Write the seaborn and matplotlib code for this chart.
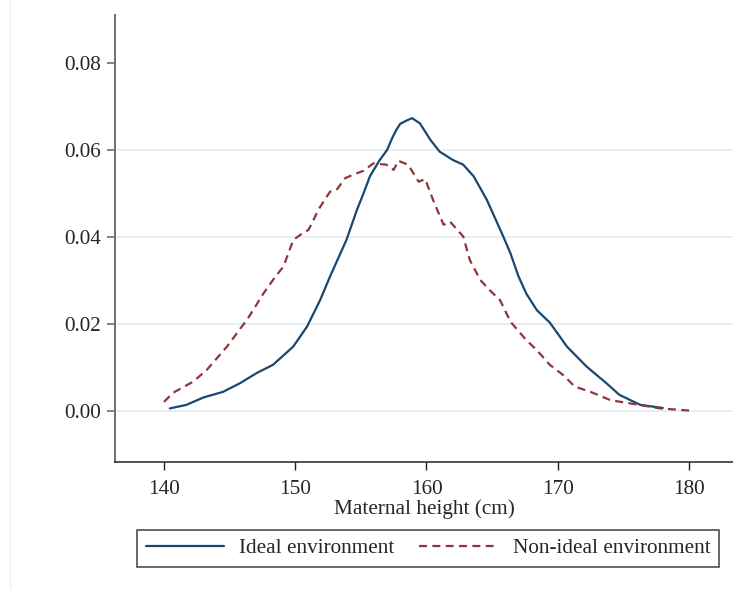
import matplotlib
matplotlib.use("Agg")
import matplotlib.pyplot as plt
import matplotlib.lines as mlines
import seaborn as sns
import pandas as pd

# ---- data ----
ideal_x = [140.45, 141.7, 143.0, 144.5, 145.8, 147.05, 148.3, 149.85, 150.9, 151.9,
           152.65, 153.9, 154.7, 155.2, 155.7, 156.4, 157.0, 157.4, 157.7, 158.0, 158.45, 158.9,
           159.5, 160.3, 161.0, 162.0, 162.8, 163.6, 164.6, 165.85, 166.4, 167.0, 167.6,
           168.4, 169.4, 170.7, 172.2, 173.7, 174.7, 176.3, 178.0]
ideal_y = [0.0006, 0.0014, 0.0031, 0.0044, 0.0064, 0.0087, 0.0106, 0.0148, 0.0194, 0.0255,
           0.0309, 0.0393, 0.0462, 0.0500, 0.0540, 0.0575, 0.0600, 0.0628, 0.0646, 0.0660, 0.0667, 0.0673,
           0.0661, 0.0623, 0.0596, 0.0577, 0.0566, 0.0539, 0.0485, 0.0401, 0.0362, 0.0310, 0.0270,
           0.0232, 0.0203, 0.0148, 0.0102, 0.0064, 0.0037, 0.0014, 0.0007]

nonideal_x = [140.0, 140.7, 142.2, 143.25, 144.8, 146.4, 147.6, 148.3, 149.1, 149.85,
              150.4, 151.0, 151.25, 151.75, 152.65, 153.15, 153.8, 154.4, 155.2, 155.95,
              156.95, 157.5, 157.85, 158.6, 159.4, 159.9, 160.5, 161.3, 161.8, 162.8,
              163.3, 164.1, 164.8, 165.6, 166.4, 167.6, 168.4, 169.4, 170.4, 171.3,
              172.5, 174.0, 175.8, 177.8, 180.0]
nonideal_y = [0.0021, 0.0042, 0.0067, 0.0094, 0.0148, 0.0213, 0.0271, 0.0301, 0.0332, 0.0393,
              0.0405, 0.0416, 0.0430, 0.0462, 0.0504, 0.0508, 0.0535, 0.0543, 0.0552, 0.0569,
              0.0566, 0.0554, 0.0575, 0.0566, 0.0527, 0.0533, 0.0485, 0.0428, 0.0435, 0.0401,
              0.0347, 0.0301, 0.0278, 0.0255, 0.0205, 0.0163, 0.0140, 0.0106, 0.0083, 0.0056,
              0.0044, 0.0025, 0.0016, 0.0006, 0.0001]

series_labels = ["Ideal environment", "Non-ideal environment"]
x_ticks = [140, 150, 160, 170, 180]
y_ticks = [0.00, 0.02, 0.04, 0.06, 0.08]
y_tick_labels = ["0.00", "0.02", "0.04", "0.06", "0.08"]
x_label = "Maternal height (cm)"

# ---- styling ----
sns.set_style("white")
plt.rcParams["font.family"] = ["Liberation Serif", "DejaVu Serif"]
FS = 15.3
plt.rcParams["font.size"] = FS

navy = "#1a476f"
maroon = "#90353b"
grid_col = "#e4edf0"

fig = plt.figure(figsize=(7.33, 5.90), dpi=100)
ax = fig.add_axes([115 / 733, 1 - 462 / 590, (733 - 115) / 733, (462 - 15) / 590])

df_ideal = pd.DataFrame({"x": ideal_x, "y": ideal_y})
df_non = pd.DataFrame({"x": nonideal_x, "y": nonideal_y})

sns.lineplot(data=df_ideal, x="x", y="y", ax=ax, color=navy, linewidth=1.6,
             estimator=None, sort=False, label=series_labels[0])
sns.lineplot(data=df_non, x="x", y="y", ax=ax, color=maroon, linewidth=1.6,
             estimator=None, sort=False, label=series_labels[1],
             linestyle=(0, (3.6, 2.4)))

ax.set_xlim(136.27, 183.35)
ax.set_ylim(-0.01172, 0.0910)

# gridlines (Stata-like, none at the top tick)
for gy in y_ticks[:-1]:
    ax.axhline(gy, color=grid_col, linewidth=1.3, zorder=0)

ax.set_xticks(x_ticks)
ax.set_xticklabels([str(t) for t in x_ticks])
ax.set_yticks(y_ticks)
ax.set_yticklabels(y_tick_labels)

for s in ["top", "right"]:
    ax.spines[s].set_visible(False)
ax.spines["left"].set_color("#707070")
ax.spines["left"].set_linewidth(1.4)
ax.spines["bottom"].set_color("#202020")
ax.spines["bottom"].set_linewidth(1.1)

ax.tick_params(axis="y", length=6, width=1.2, color="#707070", pad=4, labelsize=FS,
               left=True)
ax.tick_params(axis="x", length=6, width=1.0, color="#202020", pad=7, labelsize=FS,
               bottom=True)

ax.set_xlabel(x_label, fontsize=FS, labelpad=0)
ax.set_ylabel("")

leg = ax.get_legend()
if leg is not None:
    leg.remove()

h1 = mlines.Line2D([], [], color=navy, linewidth=1.6)
h2 = mlines.Line2D([], [], color=maroon, linewidth=1.6, linestyle=(0, (3.6, 2.4)))
lg = fig.legend([h1, h2], series_labels, loc="center",
                bbox_to_anchor=(428 / 733, 1 - 548.5 / 590), ncol=2,
                frameon=True, fancybox=False, edgecolor="#111111",
                handlelength=3.7, handletextpad=0.7, columnspacing=1.15,
                borderpad=0.4, fontsize=FS)
lg.get_frame().set_linewidth(1.1)

# faint vertical border at the far left
fig.add_artist(mlines.Line2D([10 / 733, 10 / 733], [0, 1], color="#eeeeee",
                             linewidth=1.0, transform=fig.transFigure))

fig.savefig("out.png", dpi=100, facecolor="white")
